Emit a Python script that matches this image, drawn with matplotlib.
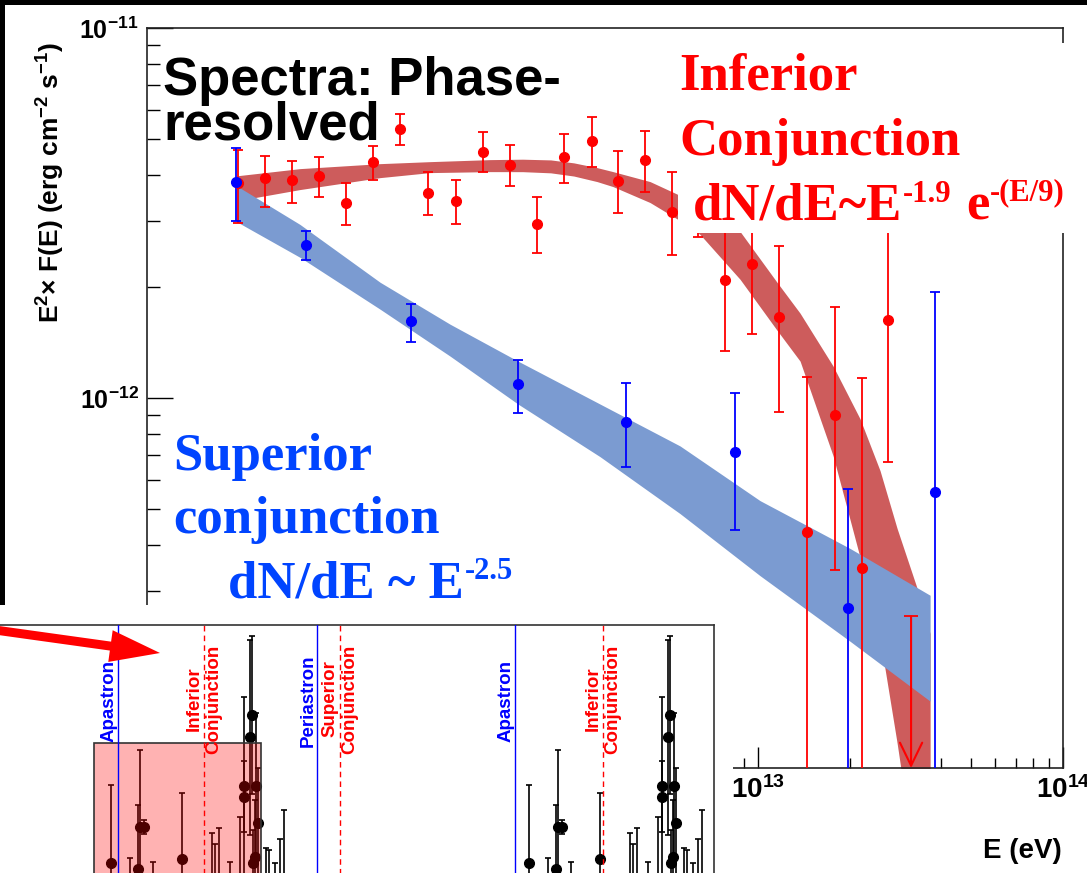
import numpy as np
import matplotlib
matplotlib.use('Agg')
import matplotlib.pyplot as plt
from matplotlib import transforms
from matplotlib.patches import Rectangle, FancyArrow
from matplotlib.ticker import LogLocator, NullFormatter

plt.rcParams['font.family'] = ['Liberation Sans', 'DejaVu Sans']
plt.rcParams['font.weight'] = 'bold'

# spectrum at inferior conjunction: E in TeV, E^2 F in 1e-12 erg cm^-2 s^-1
inf_E = [0.199, 0.2435, 0.2985, 0.366, 0.4485, 0.550, 0.674, 0.832, 1.028, 1.26,
         1.545, 1.894, 2.323, 2.868, 3.49, 4.28, 5.245, 6.38, 7.82, 9.59,
         11.75, 14.51, 17.93, 21.97, 26.74]
inf_F = [3.82, 3.92, 3.89, 3.99, 3.375, 4.33, 5.34, 3.59, 3.40, 4.63,
         4.25, 2.96, 4.49, 4.96, 3.87, 4.41, 3.19, 3.13, 2.08, 2.30,
         1.66, 0.435, 0.90, 0.348, 1.62]
inf_hi = [4.69, 4.52, 4.38, 4.49, 3.82, 4.81, 5.87, 4.07, 3.89, 5.24,
          4.84, 3.50, 5.18, 5.76, 4.66, 5.28, 4.07, 3.61, 3.25, 3.55,
          2.57, 1.14, 1.76, 1.13, 3.40]
inf_lo = [2.98, 3.29, 3.375, 3.50, 2.93, 3.89, 4.84, 3.13, 2.945, 4.09,
          3.73, 2.46, 3.82, 4.22, 3.17, 3.61, 2.43, 2.73, 1.34, 1.49,
          0.917, 0.0, 0.342, 0.0, 0.672]
inf_ul_E = [31.8]
inf_ul_F = [0.257]

# spectrum at superior conjunction
sup_E = [0.195, 0.332, 0.732, 1.641, 3.707, 8.43, 19.78, 38.1]
sup_F = [3.845, 2.585, 1.61, 1.09, 0.862, 0.715, 0.270, 0.558]
sup_hi = [4.75, 2.82, 1.80, 1.27, 1.10, 1.03, 0.568, 1.94]
sup_lo = [3.00, 2.355, 1.42, 0.91, 0.652, 0.441, 0.0, 0.0]

# fit bands (edges)
sup_band_E = [0.196, 0.317, 0.580, 0.983, 1.641, 3.047, 5.570, 10.18, 20.08, 36.71]
sup_band_hi = [3.75, 2.945, 2.055, 1.583, 1.258, 0.963, 0.742, 0.528, 0.392, 0.293]
sup_band_lo = [3.00, 2.40, 1.738, 1.298, 0.963, 0.694, 0.487, 0.331, 0.220, 0.1516]

inf_band_E = [0.199, 0.317, 0.580, 0.845, 1.329, 1.70, 2.10, 2.50, 2.979, 3.360, 4.442, 5.487,
              6.477, 8.758, 11.57, 13.77, 17.66, 21.65, 25.17, 28.62, 33.28, 36.71]
inf_band_hi = [3.99, 4.168, 4.299, 4.353, 4.408, 4.42, 4.40, 4.32, 4.194, 4.091, 3.845, 3.547,
               3.333, 2.818, 2.055, 1.695, 1.220, 0.878, 0.636, 0.444, 0.306, 0.231]
inf_band_lo = [3.417, 3.659, 3.941, 4.066, 4.091, 4.09, 4.06, 3.98, 3.845, 3.727, 3.375, 3.037,
               2.767, 2.093, 1.525, 1.258, 0.698, 0.3705, 0.224, 0.1168, 0.0505, 0.024]

# light curve inset (one orbit, repeated)
lc_phase = [0.4897, 0.5359, 0.5543, 0.5598, 0.5694, 0.5902, 0.6596, 0.7321, 0.7392, 0.7488,
            0.7751, 0.799, 0.8093, 0.8093, 0.8270, 0.8230, 0.8373, 0.8414, 0.8349, 0.8308,
            0.8612, 0.8691, 0.8835, 0.8947, 0.905]
lc_flux = [1.335, 0.18, 1.116, 2.665, 2.665, 0.0, 1.48, 0.727, 0.364, 0.545,
           0.18, 0.727, 4.145, 3.756, 6.727, 5.916, 4.145, 2.81, 1.575, 1.335,
           0.545, 0.364, 0.18, 0.545, 0.727]
lc_err = [2.847, 1.345, 2.338, 2.789, 0.25, 1.39, 2.41, 1.71, 1.67, 2.07,
          1.2, 2.29, 3.236, 1.3, 2.873, 3.54, 2.65, 2.0, 2.06, 1.2,
          1.35, 1.45, 1.16, 1.67, 2.55]
apastron = [0.507, 1.457]
periastron = [0.983]
inf_conj = [0.713, 1.667]
sup_conj = [1.038]
shade_phase = (0.45, 0.85)
shade_top = 5.71

W, H = 1087, 873
fig = plt.figure(figsize=(W / 100, H / 100), dpi=100)
pix = transforms.Affine2D().scale(1 / W, -1 / H).translate(0, 1) + fig.transFigure


def box(l, t, r, b):
    return [l / W, 1 - b / H, (r - l) / W, (b - t) / H]


TeV, unit = 1e12, 1e-12
red, blue, tblue = '#ff0000', '#0000ff', '#0044ff'

ax = fig.add_axes(box(147, 28, 1063, 768))
ax.set_xscale('log')
ax.set_yscale('log')
ax.set_xlim(1e11, 1e14)
ax.set_ylim(1e-13, 1e-11)

ax.fill_between(np.array(inf_band_E) * TeV, np.array(inf_band_lo) * unit,
                np.array(inf_band_hi) * unit, color='#cd5c5c', lw=0, zorder=2)
ax.fill_between(np.array(sup_band_E) * TeV, np.array(sup_band_lo) * unit,
                np.array(sup_band_hi) * unit, color='#7b9bd1', lw=0, zorder=2.1)

for E, F, lo, hi, c in [(inf_E, inf_F, inf_lo, inf_hi, red),
                        (sup_E, sup_F, sup_lo, sup_hi, blue)]:
    F = np.array(F)
    lo = np.where(np.array(lo) > 0, lo, 1e-3)
    yerr = [(F - lo) * unit, (np.array(hi) - F) * unit]
    ax.errorbar(np.array(E) * TeV, F * unit, yerr=yerr, fmt='o', color=c, ms=7,
                elinewidth=1.3, capsize=3.5, capthick=1.3, zorder=4)

ax.plot(np.array(inf_ul_E) * TeV, np.array(inf_ul_F) * unit, ls='none', marker='_',
        ms=10, mew=1.3, color=red, zorder=4)
for E, F in zip(inf_ul_E, inf_ul_F):
    ax.annotate('', xy=(E * TeV, 1e-13), xytext=(E * TeV, F * unit),
                arrowprops=dict(arrowstyle='->,head_length=1.65,head_width=0.8',
                                color=red, lw=1.5, shrinkA=0, shrinkB=0), zorder=4)

ax.xaxis.set_minor_locator(LogLocator(base=10, subs=np.arange(2, 10)))
ax.yaxis.set_minor_locator(LogLocator(base=10, subs=np.arange(2, 10)))
ax.xaxis.set_minor_formatter(NullFormatter())
ax.yaxis.set_minor_formatter(NullFormatter())
ax.tick_params(which='both', direction='in', top=False, right=False, width=1)
ax.tick_params(axis='x', which='major', length=15, labelsize=20, pad=6)
ax.tick_params(axis='x', which='minor', length=7.5)
ax.tick_params(axis='y', which='major', length=18.5, labelsize=18, pad=6)
ax.tick_params(axis='y', which='minor', length=9.5)
for s in ax.spines.values():
    s.set_linewidth(1.2)
    s.set_color('#222222')

# white box behind the inferior conjunction label
ax.add_patch(Rectangle((678, 43), 420, 190, transform=pix, facecolor='white',
                       edgecolor='none', zorder=10, clip_on=False))

kw = dict(transform=pix, zorder=11, clip_on=False)
ax.text(163, 95, 'Spectra: Phase-', fontsize=38, color='black', **kw)
ax.text(163, 140, 'resolved', fontsize=38, color='black', **kw)

serif = dict(family='Liberation Serif', **kw)
big, small = 38, 22
ax.text(679, 90, 'Inferior', color=red, fontsize=big, **serif)
ax.text(679, 155, 'Conjunction', color=red, fontsize=big, **serif)
ax.text(693, 220, 'dN/dE~E', color=red, fontsize=big, **serif)
ax.text(903, 202, '-1.9', color=red, fontsize=small, **serif)
ax.text(966, 220, 'e', color=red, fontsize=big, **serif)
ax.text(990, 200, '-(E/9)', color=red, fontsize=small, **serif)

ax.text(173, 470, 'Superior', color=tblue, fontsize=big, **serif)
ax.text(173, 533, 'conjunction', color=tblue, fontsize=big, **serif)
ax.text(228, 597, 'dN/dE ~ E', color=tblue, fontsize=big, **serif)
ax.text(465, 579, '-2.5', color=tblue, fontsize=small, **serif)

ax.text(50, 42, r'E$^{\mathdefault{2}}$× F(E) (erg cm$^{\mathdefault{-2}}$ s$^{\mathdefault{-1}}$)',
        rotation=90, ha='center', va='top', fontsize=19, **kw)
ax.text(1062, 858, 'E (eV)', ha='right', va='baseline', fontsize=20, **kw)

# cover for the inset
fig.add_artist(Rectangle((0, 605), 733, 275, transform=pix, facecolor='white',
                         edgecolor='none', zorder=2))

# light-curve inset
axi = fig.add_axes(box(-94, 625, 714, 927.5), zorder=3)
axi.set_xlim(0, 1.933)
axi.set_ylim(-1, 10)
axi.set_xticks([])
axi.set_yticks([])
for s in axi.spines.values():
    s.set_linewidth(1.2)
    s.set_color('#333333')

ph = np.concatenate([lc_phase, np.array(lc_phase) + 1])
fl = np.concatenate([lc_flux, lc_flux])
er = np.concatenate([lc_err, lc_err])
axi.errorbar(ph, fl, yerr=er, fmt='o', color='black', ms=7, elinewidth=1.2,
             capsize=2, capthick=1.2, zorder=2)
axi.add_patch(Rectangle((shade_phase[0], -1), shade_phase[1] - shade_phase[0], shade_top + 1,
                        facecolor=(1, 0, 0, 0.3), edgecolor='#333333', lw=1.2, zorder=4))

for p in apastron + periastron:
    axi.axvline(p, color=blue, lw=1, zorder=5)
for p in inf_conj + sup_conj:
    axi.axvline(p, color=red, lw=1, ls=(0, (4, 3)), zorder=5)

bt = transforms.blended_transform_factory(axi.transData, pix)
lab = dict(transform=bt, rotation=90, fontsize=13.5, zorder=6)
for p in apastron:
    axi.text(p, 742, 'Apastron', color=blue, ha='right', va='bottom', **lab)
for p in periastron:
    axi.text(p, 747, 'Periastron', color=blue, ha='right', va='bottom', **lab)
for p in inf_conj:
    axi.text(p, 699, 'Inferior\nConjunction', color=red, ha='center', va='center',
             multialignment='center', **lab)
for p in sup_conj:
    axi.text(p, 699, 'Superior\nConjunction', color=red, ha='center', va='center',
             multialignment='center', **lab)

fig.add_artist(FancyArrow(-5, 630, 165, 23, width=9, head_width=32, head_length=50,
                          length_includes_head=True, color=red, lw=0,
                          transform=pix, zorder=6))

# black slide border
fig.add_artist(Rectangle((0, 0), W, 5, transform=pix, facecolor='black', edgecolor='none', zorder=7))
fig.add_artist(Rectangle((0, 0), 5, 605, transform=pix, facecolor='black', edgecolor='none', zorder=7))

fig.savefig('out.png', dpi=100, facecolor='white')
